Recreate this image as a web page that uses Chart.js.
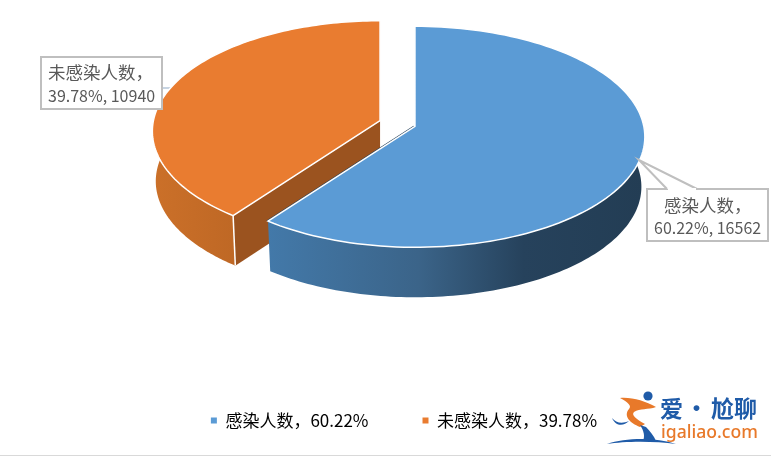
<!DOCTYPE html>
<html>
<head>
<meta charset="utf-8">
<script src="https://cdn.jsdelivr.net/npm/chart.js@4"></script>
<style>
  html, body { margin: 0; padding: 0; background: #fff; }
  #wrap { position: relative; width: 771px; height: 456px; overflow: hidden; }
  #baseLine { position: absolute; left: 0; top: 455px; width: 771px; height: 1px; background: #d9d9d9; }
  .logo { position: absolute; white-space: nowrap; line-height: 1; }
  .logoCn { color: #1f5ba8; font: bold 23px "Noto Sans CJK SC"; }
  #logoEn { left: 661px; top: 419px; color: #e8792a; font: 500 17.6px "Noto Sans", sans-serif; }
</style>
</head>
<body>
<div id="wrap">
  <canvas id="pieChart" width="771" height="456"></canvas>
  <svg style="position:absolute;left:0;top:0" width="771" height="456">
    <circle cx="648" cy="396" r="4.6" fill="#1f5ba8"/>
    <path fill="#e8792a" d="M620 398 C632 397 645 401 656 407 C648 410 640 408 634 412 C631 415 636 419 645 424 L640 427 C630 423 623 416 629 409 C632 406 628 402 620 398Z"/>
    <path fill="#1f5ba8" d="M640 425 L646 427 C650 431 654 436 656 441 L643 441 C645 436 644 431 640 425Z"/>
    <path fill="#1f5ba8" d="M612 418 C616 423 622 424 629 421 C624 426 616 427 612 418Z"/>
    <path fill="#1f5ba8" d="M607 444 C625 438 655 437 676 444 C655 441 625 441 607 444Z"/>
  </svg>
  <span class="logo logoCn" style="left:660px;top:390px">爱</span>
  <span class="logo logoCn" style="left:685px;top:390px">·</span>
  <span class="logo logoCn" style="left:711px;top:390px">尬聊</span>
  <span class="logo" id="logoEn">igaliao.com</span>
  <div id="baseLine"></div>
</div>

<script>
const categories = ['感染人数', '未感染人数'];
const people = [16562, 10940];
const topColors = ['#5b9bd5', '#e97c30'];

const total = people.reduce((a, b) => a + b, 0);
const percents = people.map(v => (v / total * 100).toFixed(2));

const textColor = '#595959';
const cnFont = '"Noto Sans CJK SC", sans-serif';

// the pie is laid out by Chart.js as a flat circle, this plugin tilts it
const stretchRight = 2.09;
const stretchLeft = 2.07;
const perspective = 0.095;
const depth = 50;
const bottomScale = 0.985;
const shiftX = -6.5;
const shiftY = -55.5;

function apexOf(arc) {
  const mid = (arc.startAngle + arc.endAngle) / 2;
  const off = arc.options.offset;
  return {
    x: arc.x + shiftX + Math.cos(mid) * off * stretchRight,
    y: arc.y + shiftY + Math.sin(mid) * off
  };
}

function rimPoint(arc, apex, angle, lowered) {
  const w = 1 - perspective * Math.sin(angle);
  const s = lowered ? bottomScale : 1;
  const cos = Math.cos(angle);
  const stretch = cos < 0 ? stretchLeft : stretchRight;
  return {
    x: apex.x + s * stretch * arc.outerRadius * cos / w,
    y: apex.y + arc.outerRadius * Math.sin(angle) / w + (lowered ? depth : 0)
  };
}

function traceRim(ctx, arc, apex, from, to, lowered) {
  const steps = 120;
  for (let i = 0; i <= steps; i++) {
    const p = rimPoint(arc, apex, from + (to - from) * i / steps, lowered);
    ctx.lineTo(p.x, p.y);
  }
}

function drawWalls(ctx, arc, apex, index) {
  // only the part of the rim that faces the viewer
  const from = Math.max(arc.startAngle, -0.3);
  const to = Math.min(arc.endAngle, Math.PI + 0.3);
  const endTop = rimPoint(arc, apex, arc.endAngle, false);
  const startTop = rimPoint(arc, apex, arc.startAngle, false);

  if (index === 1) {
    // flat cut face of the orange slice
    const lift = rimPoint(arc, apex, arc.startAngle, true);
    ctx.beginPath();
    ctx.moveTo(startTop.x, startTop.y);
    ctx.lineTo(apex.x, apex.y);
    ctx.lineTo(apex.x, apex.y + depth);
    ctx.lineTo(lift.x, lift.y);
    ctx.closePath();
    ctx.fillStyle = '#9b531f';
    ctx.fill();
  } else {
    ctx.beginPath();
    ctx.moveTo(endTop.x - 1, endTop.y);
    ctx.lineTo(apex.x - 1, apex.y);
    ctx.strokeStyle = '#24405a';
    ctx.lineWidth = 1.5;
    ctx.stroke();
  }

  if (to > from) {
    const left = rimPoint(arc, apex, index === 0 ? to : Math.PI, false).x;
    const right = index === 0 ? rimPoint(arc, apex, 0, false).x : rimPoint(arc, apex, from, false).x;
    const grad = ctx.createLinearGradient(left, 0, right, 0);
    if (index === 0) {
      grad.addColorStop(0, '#4379a9');
      grad.addColorStop(0.4, '#3b6489');
      grad.addColorStop(0.68, '#26425c');
      grad.addColorStop(1, '#233d54');
    } else {
      grad.addColorStop(0, '#cb7029');
      grad.addColorStop(1, '#bf6825');
    }
    ctx.beginPath();
    const first = rimPoint(arc, apex, from, false);
    ctx.moveTo(first.x, first.y);
    traceRim(ctx, arc, apex, from, to, false);
    traceRim(ctx, arc, apex, to, from, true);
    ctx.closePath();
    ctx.fillStyle = grad;
    ctx.fill();
  }

  if (index === 1) {
    const low = rimPoint(arc, apex, arc.startAngle, true);
    ctx.beginPath();
    ctx.moveTo(startTop.x, startTop.y);
    ctx.lineTo(low.x, low.y);
    ctx.strokeStyle = '#fff';
    ctx.lineWidth = 1.5;
    ctx.stroke();
  }
}

function drawTop(ctx, arc, apex, color) {
  ctx.beginPath();
  ctx.moveTo(apex.x, apex.y);
  traceRim(ctx, arc, apex, arc.startAngle, arc.endAngle, false);
  ctx.closePath();
  ctx.fillStyle = color;
  ctx.fill();
  ctx.strokeStyle = '#fff';
  ctx.lineWidth = 1.5;
  ctx.lineJoin = 'miter';
  ctx.stroke();
}

function drawCallout(ctx, box, tail, lines) {
  ctx.beginPath();
  ctx.rect(box.x, box.y, box.w, box.h);
  ctx.fillStyle = '#fff';
  ctx.fill();
  ctx.strokeStyle = '#bfbfbf';
  ctx.lineWidth = 2;
  ctx.stroke();
  if (tail) {
    ctx.beginPath();
    ctx.moveTo(tail[0][0], tail[0][1]);
    ctx.lineTo(tail[1][0], tail[1][1]);
    ctx.lineTo(tail[2][0], tail[2][1]);
    ctx.closePath();
    ctx.fill();
    ctx.beginPath();
    ctx.moveTo(tail[0][0], tail[0][1]);
    ctx.lineTo(tail[1][0], tail[1][1]);
    ctx.lineTo(tail[2][0], tail[2][1]);
    ctx.stroke();
    // hide box edge under the tail
    ctx.beginPath();
    ctx.moveTo(tail[0][0] + 1, tail[0][1]);
    ctx.lineTo(tail[2][0] - 1, tail[2][1]);
    ctx.strokeStyle = '#fff';
    ctx.stroke();
  }
  ctx.fillStyle = textColor;
  ctx.textBaseline = 'middle';
  ctx.textAlign = 'left';
  lines.forEach(l => {
    ctx.font = l.size + 'px ' + cnFont;
    ctx.fillText(l.text, l.x, l.y);
  });
}

const tiltedPie = {
  id: 'tiltedPie',
  beforeDatasetDraw(chart, args) {
    const ctx = chart.ctx;
    const arcs = chart.getDatasetMeta(args.index).data;
    ctx.save();

    // faint tail of the left label sits behind the orange slice
    ctx.beginPath();
    ctx.moveTo(162, 88);
    ctx.lineTo(174, 88);
    ctx.strokeStyle = '#b4c6d8';
    ctx.lineWidth = 1.5;
    ctx.stroke();

    [1, 0].forEach(i => {
      const apex = apexOf(arcs[i]);
      drawWalls(ctx, arcs[i], apex, i);
      drawTop(ctx, arcs[i], apex, topColors[i]);
    });
    ctx.restore();
    return false;
  },
  afterDraw(chart) {
    const ctx = chart.ctx;
    ctx.save();
    drawCallout(ctx, { x: 647, y: 189, w: 121, h: 52 }, [[667, 189], [639, 160], [697, 189]], [
      { text: categories[0] + '，', x: 664, y: 205, size: 17.5 },
      { text: percents[0] + '%, ' + people[0], x: 654, y: 228, size: 16 }
    ]);
    drawCallout(ctx, { x: 41, y: 57, w: 121, h: 52 }, null, [
      { text: categories[1] + '，', x: 48, y: 72, size: 17.5 },
      { text: percents[1] + '%, ' + people[1], x: 48, y: 96, size: 16 }
    ]);
    ctx.restore();
  }
};

new Chart(document.getElementById('pieChart'), {
  type: 'pie',
  data: {
    labels: categories,
    datasets: [{
      data: people,
      backgroundColor: topColors,
      borderWidth: 0,
      offset: 8.8,
      radius: 109.5
    }]
  },
  options: {
    responsive: false,
    animation: false,
    layout: { padding: { left: 37, bottom: 17 } },
    plugins: {
      tooltip: { enabled: false },
      legend: {
        position: 'bottom',
        labels: {
          boxWidth: 6,
          boxHeight: 6,
          padding: 54,
          color: textColor,
          font: { size: 17, family: cnFont },
          generateLabels: () => categories.map((c, i) => ({
            text: c + '，' + percents[i] + '%',
            fillStyle: topColors[i],
            strokeStyle: topColors[i],
            lineWidth: 0,
            index: i
          }))
        }
      }
    }
  },
  plugins: [tiltedPie]
});
</script>
</body>
</html>
